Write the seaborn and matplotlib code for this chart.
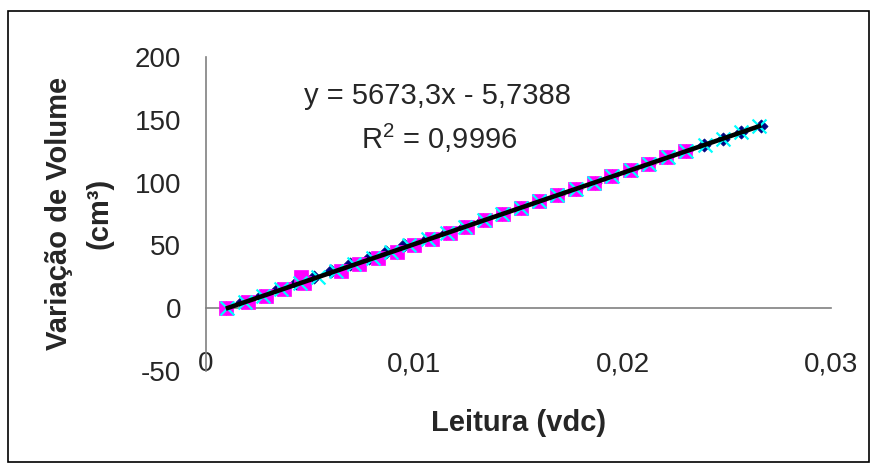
import matplotlib
matplotlib.use("Agg")
import matplotlib.pyplot as plt
from matplotlib.patches import Rectangle
import pandas as pd
import seaborn as sns

# Volume steps (cm³) and the voltage readings (vdc) of three calibration runs
volume = [0, 5, 10, 15, 20, 25, 30, 35, 40, 45, 50, 55, 60, 65, 70,
          75, 80, 85, 90, 95, 100, 105, 110, 115, 120, 125, 130, 135, 140, 145]

leitura_run1 = [0.00098, 0.00175, 0.00262, 0.00345, 0.00430, 0.00520, 0.00600,
                0.00690, 0.00780, 0.00862, 0.00950, 0.01060, 0.01150, 0.01240,
                0.01330, 0.01420, 0.01510, 0.01600, 0.01690, 0.01775, 0.01865,
                0.01950, 0.02040, 0.02128, 0.02215, 0.02302, 0.02390, 0.02480,
                0.02570, 0.02665]

leitura_run2 = [0.00095, 0.00200, 0.00290, 0.00375, 0.00470, 0.00455, 0.00650,
                0.00735, 0.00825, 0.00915, 0.01000, 0.01085, 0.01170, 0.01255,
                0.01340, 0.01425, 0.01510, 0.01600, 0.01685, 0.01770, 0.01860,
                0.01945, 0.02035, 0.02120, 0.02210, 0.02300]

leitura_run3 = [0.00100, 0.00188, 0.00275, 0.00362, 0.00450, 0.00538, 0.00625,
                0.00712, 0.00800, 0.00888, 0.00975, 0.01065, 0.01155, 0.01245,
                0.01335, 0.01422, 0.01510, 0.01598, 0.01686, 0.01774, 0.01862,
                0.01950, 0.02040, 0.02128, 0.02216, 0.02305, 0.02393, 0.02480,
                0.02568, 0.02655]

# Linear trendline as printed on the chart
slope = 5673.3
intercept = -5.7388
r_squared = "0,9996"

x_ticks = [0, 0.01, 0.02, 0.03]
x_tick_labels = ["0", "0,01", "0,02", "0,03"]
y_ticks = [-50, 0, 50, 100, 150, 200]

sns.set_theme(style="white")
plt.rcParams["font.family"] = ["Liberation Sans", "DejaVu Sans"]
plt.rcParams["axes.unicode_minus"] = False
plt.rcParams["mathtext.fontset"] = "custom"
plt.rcParams["mathtext.rm"] = "Liberation Sans"

fig = plt.figure(figsize=(8.72, 4.65), dpi=100)
ax = fig.add_axes([206 / 872, 1 - 371 / 465, 625 / 872, 314 / 465])

run1 = pd.DataFrame({"leitura": leitura_run1, "volume": volume})
run2 = pd.DataFrame({"leitura": leitura_run2, "volume": volume[:len(leitura_run2)]})
run3 = pd.DataFrame({"leitura": leitura_run3, "volume": volume})

sns.scatterplot(data=run1, x="leitura", y="volume", ax=ax, marker="D", s=45,
                color="#000080", edgecolor="#000080", linewidth=0.5, zorder=3)
sns.scatterplot(data=run2, x="leitura", y="volume", ax=ax, marker="s", s=95,
                color="#FF00FF", edgecolor="#FF00FF", linewidth=0.5, zorder=4)
sns.scatterplot(data=run3, x="leitura", y="volume", ax=ax, marker="x", s=100,
                color="#00FFFF", linewidth=1.6, zorder=5)

# Trendline over the range of the readings
all_x = leitura_run1 + leitura_run2 + leitura_run3
x0, x1 = min(all_x), max(all_x)
ax.plot([x0, x1], [slope * x0 + intercept, slope * x1 + intercept],
        color="black", lw=3.3, solid_capstyle="butt", zorder=6)

ax.set_xlim(0, 0.03)
ax.set_ylim(-50, 200)
ax.set_xticks(x_ticks)
ax.set_xticklabels(x_tick_labels)
ax.set_yticks(y_ticks)

for side in ("top", "right"):
    ax.spines[side].set_visible(False)
ax.spines["bottom"].set_position(("data", 0))
for side in ("left", "bottom"):
    ax.spines[side].set_color("#808080")
    ax.spines[side].set_linewidth(1.2)

ax.tick_params(axis="x", direction="out", length=7, width=1.2, color="black",
               labelsize=20, pad=24)
ax.tick_params(axis="y", direction="out", length=8, width=1.2, color="black",
               labelsize=20, pad=10)

ax.set_xlabel("Leitura (vdc)", fontsize=21, fontweight="bold",
              ha="center", va="center")
ax.xaxis.set_label_coords(0.5008, -0.166)
ax.set_ylabel("Variação de Volume\n(cm³)", fontsize=21, fontweight="bold",
              ha="center", va="center", linespacing=1.6)
ax.yaxis.set_label_coords(-0.203, 0.503)

ax.text(0.371, 0.875, f"y = {slope:.1f}x - {abs(intercept):.4f}".replace(".", ","),
        transform=ax.transAxes, fontsize=21, ha="center", va="center")
ax.text(0.373, 0.742, f"R$^2$ = {r_squared}", transform=ax.transAxes,
        fontsize=21, ha="center", va="center")

fig.patches.append(Rectangle((8 / 872, 1 - 462 / 465), 861 / 872, 451 / 465,
                             transform=fig.transFigure, fill=False,
                             edgecolor="black", linewidth=1.2))

fig.savefig("out.png", dpi=100)
